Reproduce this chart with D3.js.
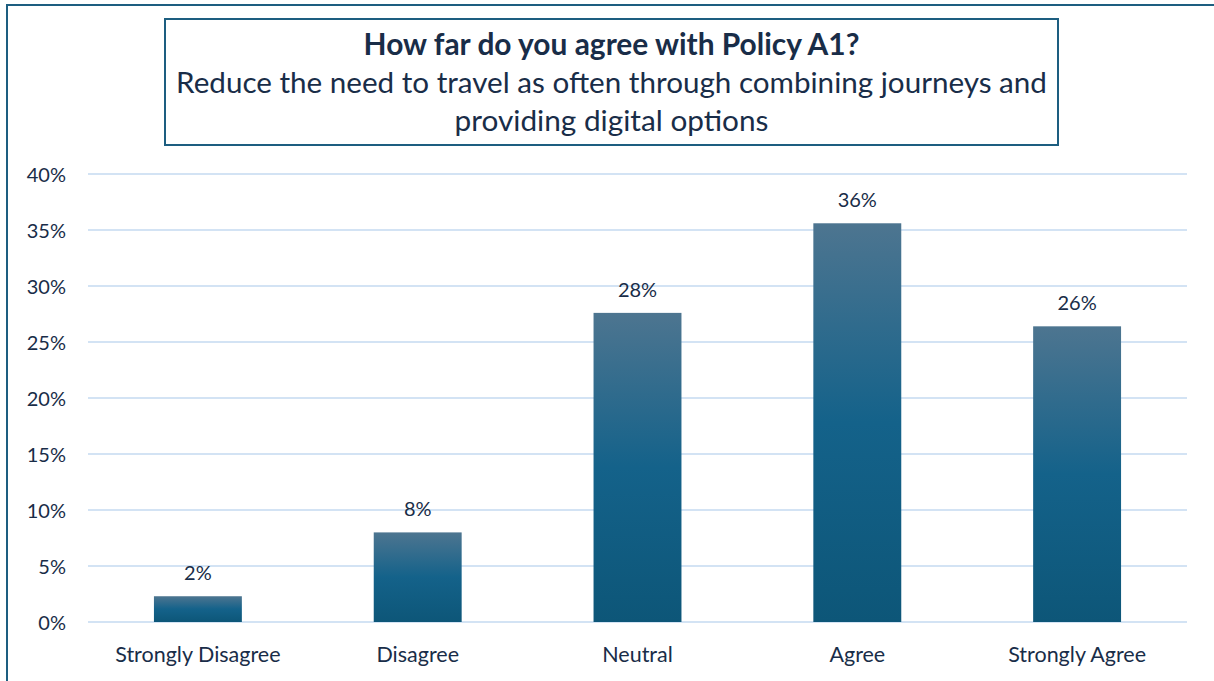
<!DOCTYPE html>
<html>
<head>
<meta charset="utf-8">
<script src="https://cdn.jsdelivr.net/npm/d3@7"></script>
<style>
  html, body { margin: 0; padding: 0; background: #fff; }
  svg { display: block; }
  text { font-family: Lato, "Open Sans", "Liberation Sans", sans-serif; fill: #192d48; }
</style>
</head>
<body>
<svg id="chart" width="1214" height="681"></svg>
<script>
// Survey responses for Policy A1
const categories = ["Strongly Disagree", "Disagree", "Neutral", "Agree", "Strongly Agree"];
const shares = [0.023, 0.080, 0.276, 0.356, 0.264];
const yTicks = [0, 0.05, 0.10, 0.15, 0.20, 0.25, 0.30, 0.35, 0.40];
const titleLines = [
  "How far do you agree with Policy A1?",
  "Reduce the need to travel as often through combining journeys and",
  "providing digital options"
];

const svg = d3.select("#chart");
const W = 1214, H = 681;
const plot = { left: 88, right: 1187, top: 174, bottom: 622 };
const pct = d3.format(".0%");

// outer chart frame
svg.append("rect")
  .attr("x", 7).attr("y", 5).attr("width", W).attr("height", H)
  .attr("fill", "none").attr("stroke", "#1d5e80").attr("stroke-width", 2);

// gradient for bars (lighter at top)
const defs = svg.append("defs");
const grad = defs.append("linearGradient")
  .attr("id", "barFill").attr("x1", 0).attr("y1", 0).attr("x2", 0).attr("y2", 1);
grad.append("stop").attr("offset", "0%").attr("stop-color", "#4d7590");
grad.append("stop").attr("offset", "50%").attr("stop-color", "#14628a");
grad.append("stop").attr("offset", "100%").attr("stop-color", "#0d5678");

const x = d3.scaleBand().domain(categories).range([plot.left, plot.right]).paddingInner(0.6).paddingOuter(0.3);
const y = d3.scaleLinear().domain([0, 0.40]).range([plot.bottom, plot.top]);

// gridlines
svg.append("g")
  .selectAll("line")
  .data(yTicks)
  .join("line")
  .attr("x1", plot.left).attr("x2", plot.right)
  .attr("y1", d => y(d)).attr("y2", d => y(d))
  .attr("stroke", "#d3e3f4").attr("stroke-width", 2);

// y axis labels
const yAxis = d3.axisLeft(y).tickValues(yTicks).tickFormat(pct).tickSize(0).tickPadding(0);
const gy = svg.append("g").attr("transform", `translate(66,0)`).call(yAxis);
gy.select(".domain").remove();
gy.selectAll("text").attr("font-size", 20).attr("dy", "0.35em")
  .style("font-family", "Lato, 'Open Sans', sans-serif").attr("fill", "#192d48");

// bars
const rows = categories.map((c, i) => ({ c, v: shares[i] }));
svg.append("g")
  .selectAll("rect")
  .data(rows)
  .join("rect")
  .attr("x", d => x(d.c))
  .attr("width", x.bandwidth())
  .attr("y", d => y(d.v))
  .attr("height", d => y(0) - y(d.v))
  .attr("fill", "url(#barFill)");

// value labels
svg.append("g")
  .selectAll("text")
  .data(rows)
  .join("text")
  .attr("x", d => x(d.c) + x.bandwidth() / 2)
  .attr("y", d => y(d.v) - 16)
  .attr("text-anchor", "middle")
  .attr("font-size", 20)
  .text(d => pct(d.v));

// x axis labels
const xAxis = d3.axisBottom(x).tickSize(0).tickPadding(0);
const gx = svg.append("g").attr("transform", `translate(0,${plot.bottom + 40})`).call(xAxis);
gx.select(".domain").remove();
gx.selectAll("text").attr("font-size", 21.5).attr("dy", 0)
  .style("font-family", "Lato, 'Open Sans', sans-serif").attr("fill", "#192d48");

// title box
const box = { x: 165, y: 19, w: 893, h: 126 };
svg.append("rect")
  .attr("x", box.x).attr("y", box.y).attr("width", box.w).attr("height", box.h)
  .attr("fill", "#fff").attr("stroke", "#1d5e80").attr("stroke-width", 2);

const cx = box.x + box.w / 2;
const lineSpec = [
  { y: 55, size: 22, weight: "bold", width: 496 },
  { y: 93, size: 26, weight: "normal", width: 871 },
  { y: 131, size: 26, weight: "normal", width: 314 }
];
titleLines.forEach((t, i) => {
  const s = lineSpec[i];
  const el = svg.append("text")
    .attr("x", cx).attr("y", s.y)
    .attr("text-anchor", "middle")
    .attr("font-size", s.size)
    .attr("font-weight", s.weight)
    .text(t);
  const w = el.node().getComputedTextLength();
  el.attr("font-size", s.size * s.width / w);
});
</script>
</body>
</html>
